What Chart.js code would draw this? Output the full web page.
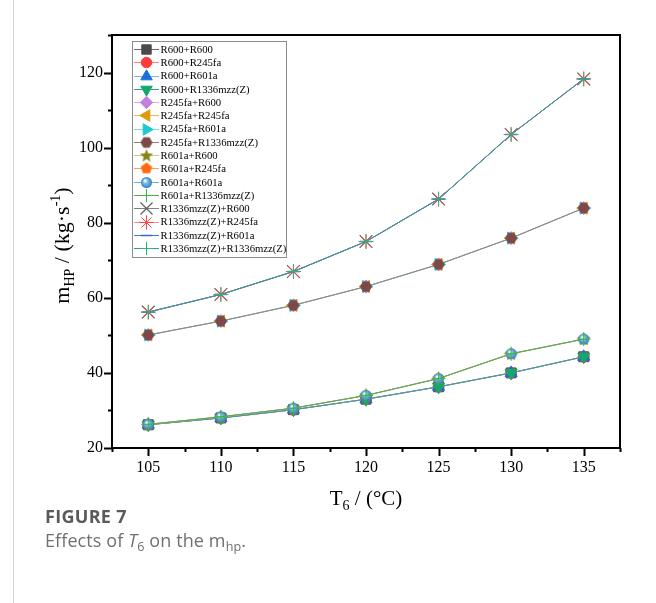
<!DOCTYPE html>
<html>
<head>
<meta charset="utf-8">
<script src="https://cdn.jsdelivr.net/npm/chart.js@4.4.0/dist/chart.umd.min.js"></script>
<style>
	body { margin: 0; background: #fff; width: 656px; height: 603px; overflow: hidden; position: relative; }
	#wrap { position: absolute; left: 0; top: 0; width: 656px; height: 520px; }
	.rule { position: absolute; left: 13px; top: 0; width: 1px; height: 603px; background: #d4d4d4; }
	.cap { position: absolute; left: 45px; font-family: 'Open Sans', sans-serif; line-height: 22px; white-space: nowrap; }
	#figno { top: 505px; font-size: 18px; font-weight: 700; color: #5a5a5a; letter-spacing: 0.3px; }
	#figtext { top: 529px; font-size: 18px; color: #707070; letter-spacing: 0.1px; }
	.cap sub { font-size: 70%; vertical-align: -0.3em; line-height: 0; }
</style>
</head>
<body>
<div class="rule"></div>
<div id="wrap"><canvas id="chart" width="656" height="520"></canvas></div>
<div class="cap" id="figno">FIGURE 7</div>
<div class="cap" id="figtext">Effects of <i>T</i><sub>6</sub> on the m<sub>hp</sub>.</div>
<script>
'use strict';

// T6 values (°C)
const temps = [105, 110, 115, 120, 125, 130, 135];

// m_HP (kg/s), one curve per first working fluid
const mhpR600 = [26.2, 28.0, 30.2, 33.0, 36.3, 40.0, 44.3];
const mhpR245fa = [50.1, 53.8, 58.0, 63.0, 68.9, 75.9, 83.9];
const mhpR601a = [26.3, 28.3, 30.6, 34.0, 38.5, 45.1, 49.0];
const mhpR1336 = [56.2, 60.9, 67.0, 75.0, 86.3, 103.5, 118.3];

const seriesNames = [
	'R600+R600', 'R600+R245fa', 'R600+R601a', 'R600+R1336mzz(Z)',
	'R245fa+R600', 'R245fa+R245fa', 'R245fa+R601a', 'R245fa+R1336mzz(Z)',
	'R601a+R600', 'R601a+R245fa', 'R601a+R601a', 'R601a+R1336mzz(Z)',
	'R1336mzz(Z)+R600', 'R1336mzz(Z)+R245fa', 'R1336mzz(Z)+R601a', 'R1336mzz(Z)+R1336mzz(Z)'
];
const seriesValues = [
	mhpR600, mhpR600, mhpR600, mhpR600,
	mhpR245fa, mhpR245fa, mhpR245fa, mhpR245fa,
	mhpR601a, mhpR601a, mhpR601a, mhpR601a,
	mhpR1336, mhpR1336, mhpR1336, mhpR1336
];

const xTicks = [105, 110, 115, 120, 125, 130, 135];
const yTicks = [20, 40, 60, 80, 100, 120];

const SERIF = "'Liberation Serif', 'Times New Roman', serif";

const makeCanvas = function(size) {
	const c = document.createElement('canvas');
	c.width = size;
	c.height = size;
	return c;
};

const polygonMarker = function(color, sides, r, start) {
	const size = Math.ceil(r * 2 + 2);
	const c = makeCanvas(size);
	const ctx = c.getContext('2d');
	ctx.fillStyle = color;
	ctx.beginPath();
	for (let i = 0; i < sides; i++) {
		const a = start + i * 2 * Math.PI / sides;
		ctx.lineTo(size / 2 + Math.cos(a) * r, size / 2 + Math.sin(a) * r);
	}
	ctx.closePath();
	ctx.fill();
	return c;
};

const starMarker = function(color, r, ri) {
	const size = Math.ceil(r * 2 + 2);
	const c = makeCanvas(size);
	const ctx = c.getContext('2d');
	ctx.fillStyle = color;
	ctx.beginPath();
	for (let i = 0; i < 10; i++) {
		const a = -Math.PI / 2 + i * Math.PI / 5;
		const rr = i % 2 ? ri : r;
		ctx.lineTo(size / 2 + Math.cos(a) * rr, size / 2 + 0.5 + Math.sin(a) * rr);
	}
	ctx.closePath();
	ctx.fill();
	return c;
};

const sphereMarker = function(r) {
	const size = Math.ceil(r * 2 + 2);
	const c = makeCanvas(size);
	const ctx = c.getContext('2d');
	const g = ctx.createRadialGradient(size / 2 - r * 0.3, size / 2 - r * 0.35, 0.5, size / 2, size / 2, r);
	g.addColorStop(0, '#ffffff');
	g.addColorStop(0.35, '#7cc0ea');
	g.addColorStop(1, '#2f7fc0');
	ctx.fillStyle = g;
	ctx.beginPath();
	ctx.arc(size / 2, size / 2, r, 0, Math.PI * 2);
	ctx.fill();
	return c;
};

// marker look for every series, same order as seriesNames
const markers = [
	{style: 'rect', rotation: 0, radius: 7, color: '#4a4a4a', line: '#6a6a6a', bw: 1},
	{style: 'circle', rotation: 0, radius: 5.5, color: '#ff3b3b', line: '#ff8080', bw: 1},
	{style: 'triangle', rotation: 0, radius: 7, color: '#1b6fdc', line: '#80aeea', bw: 1},
	{style: 'triangle', rotation: 180, radius: 7, color: '#14a86a', line: '#3d9c92', bw: 1},
	{style: 'rectRot', rotation: 0, radius: 6.5, color: '#c47fe0', line: '#d6a6ec', bw: 1},
	{style: 'triangle', rotation: -90, radius: 7, color: '#e09a0e', line: '#eab860', bw: 1},
	{style: 'triangle', rotation: 90, radius: 7, color: '#1ecad2', line: '#70dce0', bw: 1},
	{style: polygonMarker('#7d4848', 6, 6, 0), rotation: 0, radius: 6, color: '#7d4848', line: '#8a8580', bw: 0},
	{style: starMarker('#858518', 7, 3), rotation: 0, radius: 7, color: '#858518', line: '#c8c890', bw: 0},
	{style: polygonMarker('#ff6a10', 5, 6, -Math.PI / 2), rotation: 0, radius: 6, color: '#ff6a10', line: '#ff9a60', bw: 0},
	{style: sphereMarker(5.5), rotation: 0, radius: 5.5, color: '#4a9fd8', line: '#70aee0', bw: 0},
	{style: 'cross', rotation: 0, radius: 7, color: '#3cb83c', line: '#62a83a', bw: 1},
	{style: 'crossRot', rotation: 0, radius: 9, color: '#606060', line: '#808080', bw: 1.2},
	{style: 'star', rotation: 0, radius: 7.5, color: '#ff4646', line: '#ff8888', bw: 1},
	{style: 'line', rotation: 0, radius: 6, color: '#3a66cc', line: '#4a78d0', bw: 1.5},
	{style: 'cross', rotation: 0, radius: 7, color: '#2ab878', line: '#3a9a92', bw: 1}
];

const datasets = seriesNames.map((name, i) => ({
	label: name,
	data: temps.map((t, k) => ({x: t, y: seriesValues[i][k]})),
	borderColor: markers[i].line,
	borderWidth: 1,
	pointStyle: markers[i].style,
	rotation: markers[i].rotation,
	pointRadius: markers[i].radius,
	pointBackgroundColor: markers[i].color,
	pointBorderColor: markers[i].color,
	pointBorderWidth: markers[i].bw,
	order: -i
}));

// box, outward ticks (major + minor)
const framePlugin = {
	id: 'frame',
	afterDraw(chart) {
		const ctx = chart.ctx;
		const a = chart.chartArea;
		const xs = chart.scales.x;
		const ys = chart.scales.y;
		ctx.save();
		ctx.strokeStyle = '#000';
		ctx.lineWidth = 2;
		ctx.strokeRect(a.left, a.top, a.right - a.left, a.bottom - a.top);

		ctx.beginPath();
		for (let v = yTicks[0]; v <= 130; v += 10) {
			const y = Math.round(ys.getPixelForValue(v)) + 0.5;
			const len = (v % 20 === 0) ? 8 : 4;
			ctx.moveTo(a.left, y);
			ctx.lineTo(a.left - len, y);
		}
		for (let v = 102.5; v <= 137.5; v += 2.5) {
			const x = Math.round(xs.getPixelForValue(v)) + 0.5;
			const len = (v % 5 === 0) ? 8 : 4;
			ctx.moveTo(x, a.bottom);
			ctx.lineTo(x, a.bottom + len);
		}
		ctx.stroke();
		ctx.restore();
	}
};

const drawParts = function(ctx, parts, x, y) {
	// parts: [text, size, shift]
	let width = 0;
	parts.forEach(p => {
		ctx.font = p[1] + 'px ' + SERIF;
		width += ctx.measureText(p[0]).width;
	});
	let cx = x - width / 2;
	parts.forEach(p => {
		ctx.font = p[1] + 'px ' + SERIF;
		ctx.fillText(p[0], cx, y + p[2]);
		cx += ctx.measureText(p[0]).width;
	});
};

const titlePlugin = {
	id: 'titles',
	afterDraw(chart) {
		const ctx = chart.ctx;
		const a = chart.chartArea;
		ctx.save();
		ctx.fillStyle = '#000';
		ctx.textAlign = 'left';
		ctx.textBaseline = 'alphabetic';
		drawParts(ctx, [['T', 21, 0], ['6', 14, 5], [' / (°C)', 21, 0]], (a.left + a.right) / 2, 505);

		ctx.translate(69, (a.top + a.bottom) / 2 + 4);
		ctx.rotate(-Math.PI / 2);
		drawParts(ctx, [['m', 22, 0], ['HP', 14, 5], [' / (kg·s', 22, 0], ['-1', 14, -9], [')', 22, 0]], 0, 0);
		ctx.restore();
	}
};

const legendPlugin = {
	id: 'boxLegend',
	afterDatasetsDraw(chart) {
		const ctx = chart.ctx;
		const left = 132.5, top = 41.5, w = 154, h = 216;
		const rowH = 13.27;
		ctx.save();
		ctx.fillStyle = '#fff';
		ctx.fillRect(left, top, w, h);
		ctx.strokeStyle = '#8c8c8c';
		ctx.lineWidth = 1;
		ctx.strokeRect(left, top, w, h);

		seriesNames.forEach((name, i) => {
			const m = markers[i];
			const y = 49 + i * rowH;
			ctx.strokeStyle = m.line;
			ctx.lineWidth = 1;
			ctx.beginPath();
			ctx.moveTo(134, Math.round(y) + 0.5);
			ctx.lineTo(159, Math.round(y) + 0.5);
			ctx.stroke();

			ctx.fillStyle = m.color;
			ctx.strokeStyle = m.color;
			ctx.lineWidth = m.bw;
			Chart.helpers.drawPoint(ctx, {
				pointStyle: m.style,
				rotation: m.rotation,
				radius: m.radius * 0.95,
				borderWidth: m.bw
			}, 146.5, Math.round(y) + 0.5);

			ctx.fillStyle = '#000';
			ctx.font = '10.7px ' + SERIF;
			ctx.textBaseline = 'middle';
			ctx.fillText(name, 160.5, y + 1);
		});
		ctx.restore();
	}
};

new Chart(document.getElementById('chart'), {
	type: 'line',
	data: {datasets: datasets},
	options: {
		responsive: false,
		animation: false,
		layout: {padding: {left: 0, right: 36, top: 35, bottom: 0}},
		plugins: {
			legend: {display: false},
			tooltip: {enabled: false}
		},
		elements: {line: {tension: 0}},
		scales: {
			x: {
				type: 'linear',
				min: 102.5,
				max: 137.5,
				afterBuildTicks: s => { s.ticks = xTicks.map(v => ({value: v})); },
				afterFit: s => { s.height = 72; },
				grid: {display: false, drawTicks: false},
				border: {display: false},
				ticks: {
					font: {family: SERIF, size: 16},
					color: '#000',
					padding: 10,
					maxRotation: 0,
					autoSkip: false
				}
			},
			y: {
				type: 'linear',
				min: 20,
				max: 130,
				afterBuildTicks: s => { s.ticks = yTicks.map(v => ({value: v})); },
				afterFit: s => { s.width = 112; },
				grid: {display: false, drawTicks: false},
				border: {display: false},
				ticks: {
					font: {family: SERIF, size: 16},
					color: '#000',
					padding: 9,
					autoSkip: false
				}
			}
		}
	},
	plugins: [framePlugin, titlePlugin, legendPlugin]
});
</script>
</body>
</html>
